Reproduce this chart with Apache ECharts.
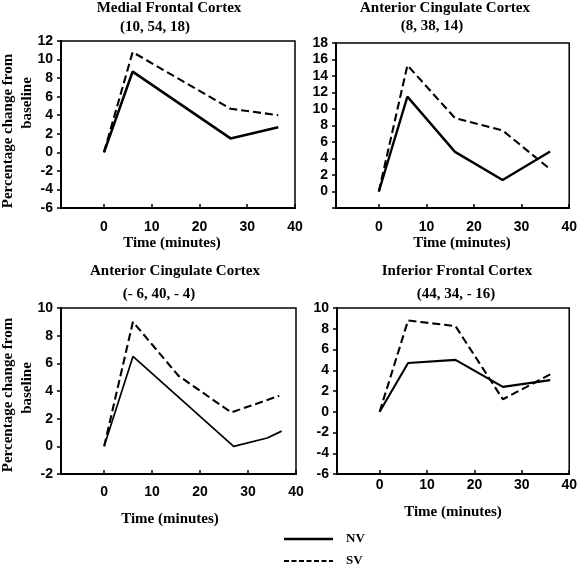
<!DOCTYPE html>
<html><head><meta charset="utf-8">
<script src="https://cdn.jsdelivr.net/npm/echarts@6/dist/echarts.min.js"></script>
<style>html,body{margin:0;padding:0;background:#fff}#c{width:580px;height:570px}</style>
</head><body><div id="c"></div>
<script>
// ---- data ----
const seriesNames = ['NV', 'SV'];
const panelTitles = ['Medial Frontal Cortex', 'Anterior Cingulate Cortex', 'Anterior Cingulate Cortex', 'Inferior Frontal Cortex'];
const panelCoords = ['(10, 54, 18)', '(8, 38, 14)', '(- 6, 40, - 4)', '(44, 34, - 16)'];
const xTicks = [0, 10, 20, 30, 40];
const yRanges = [[-6, 12], [-2, 18], [-2, 10], [-6, 10]];
const yLabelTicks2 = [0, 2, 4, 6, 8, 10, 12, 14, 16, 18];

// panel 1: Medial Frontal Cortex (10, 54, 18)
const p1NV = [[0, 0], [6, 8.7], [26.5, 1.5], [36.5, 2.7]];
const p1SV = [[0, 0], [6, 10.8], [26.5, 4.7], [36.5, 4.0]];
// panel 2: Anterior Cingulate Cortex (8, 38, 14)
const p2NV = [[0, 0], [6, 11.5], [16, 4.8], [26, 1.4], [36, 4.85]];
const p2SV = [[0, 0], [6, 15.3], [16, 8.9], [26, 7.4], [36, 2.7]];
// panel 3: Anterior Cingulate Cortex (-6, 40, -4)
const p3NV = [[0, 0], [6, 6.5], [27, 0], [34, 0.6], [37, 1.1]];
const p3SV = [[0, 0], [6, 9.0], [15.5, 5.1], [26.5, 2.45], [36.5, 3.65]];
// panel 4: Inferior Frontal Cortex (44, 34, -16)
const p4NV = [[0, 0], [6, 4.7], [16, 5.0], [26, 2.4], [36, 3.05]];
const p4SV = [[0, 0], [6, 8.8], [16, 8.25], [26, 1.2], [36, 3.6]];

const yTitle1 = 'Percentage change from';
const yTitle2 = 'baseline';
const xTitle = 'Time (minutes)';

// ---- layout ----
const grids = [
  {left: 61, top: 41, width: 234, height: 167},
  {left: 336, top: 43, width: 235, height: 165},
  {left: 61, top: 308, width: 235, height: 166},
  {left: 337, top: 308, width: 235, height: 166}
];
const xLabelMargins = [12, 12, 11, 4];
const nvWidths = [2.6, 2.4, 1.7, 2.1];
const serif = '"Liberation Serif", "Times New Roman", serif';
const sans = '"Liberation Sans", Arial, sans-serif';

const nvData = [p1NV, p2NV, p3NV, p4NV];
const svData = [p1SV, p2SV, p3SV, p4SV];

const xAxes = grids.map((g, i) => ({
  type: 'value', gridIndex: i, min: -9, max: 40,
  axisLine: {show: true, onZero: false, lineStyle: {color: '#000', width: 2}},
  axisTick: {show: true, inside: true, length: 4, customValues: xTicks, lineStyle: {color: '#000', width: 1.5}},
  axisLabel: {customValues: xTicks, color: '#000', fontFamily: sans, fontSize: 14, fontWeight: 'bold', margin: xLabelMargins[i]},
  splitLine: {show: false}
}));
const yAxes = grids.map((g, i) => {
  const [mn, mx] = yRanges[i];
  const vals = [];
  for (let v = mn; v <= mx; v += 2) vals.push(v);
  return {
    type: 'value', gridIndex: i, min: mn, max: mx, interval: 2,
    axisLine: {show: true, onZero: false, lineStyle: {color: '#000', width: 2}},
    axisTick: {show: true, inside: false, length: 4, lineStyle: {color: '#000', width: 1.5}},
    axisLabel: {customValues: i === 1 ? yLabelTicks2 : vals, color: '#000', fontFamily: sans, fontSize: 14, fontWeight: 'bold', margin: 8},
    splitLine: {show: false}
  };
});

const series = [];
for (let i = 0; i < 4; i++) {
  series.push({name: seriesNames[0], type: 'line', xAxisIndex: i, yAxisIndex: i, data: nvData[i],
    showSymbol: false, symbol: 'none', lineStyle: {color: '#000', width: nvWidths[i], type: 'solid'}, animation: false});
  series.push({name: seriesNames[1], type: 'line', xAxisIndex: i, yAxisIndex: i, data: svData[i],
    showSymbol: false, symbol: 'none', lineStyle: {color: '#000', width: 2.1, type: [8, 4]}, animation: false});
}

const titleCenters = [[169, 8], [445, 8], [175, 271], [457, 271]];
const coordCenters = [[155, 27], [432, 26], [159, 294], [456, 294]];
const xTitleCenters = [[172, 243], [462, 243], [170, 519], [453, 512]];

const txt = (x, y, s, size, rot) => ({
  type: 'text', x: x, y: y, rotation: rot || 0,
  style: {text: s, font: 'bold ' + size + 'px ' + serif, fill: '#000', align: 'center', verticalAlign: 'middle'}
});
const graphic = [];
for (let i = 0; i < 4; i++) {
  graphic.push(txt(titleCenters[i][0], titleCenters[i][1], panelTitles[i], 15));
  graphic.push(txt(coordCenters[i][0], coordCenters[i][1], panelCoords[i], 15));
  graphic.push(txt(xTitleCenters[i][0], xTitleCenters[i][1], xTitle, 15));
}
graphic.push(txt(8, 131, yTitle1, 15, Math.PI / 2));
graphic.push(txt(27, 103, yTitle2, 15, Math.PI / 2));
graphic.push(txt(8, 395, yTitle1, 15, Math.PI / 2));
graphic.push(txt(27, 388, yTitle2, 15, Math.PI / 2));
// legend
graphic.push({type: 'line', shape: {x1: 284, y1: 539, x2: 333, y2: 539}, style: {stroke: '#000', lineWidth: 2.5}});
graphic.push({type: 'line', shape: {x1: 284, y1: 561, x2: 333, y2: 561}, style: {stroke: '#000', lineWidth: 2, lineDash: [5, 2.5]}});
graphic.push({type: 'text', x: 346, y: 539, style: {text: seriesNames[0], font: 'bold 13px ' + serif, fill: '#000', align: 'left', verticalAlign: 'middle'}});
graphic.push({type: 'text', x: 346, y: 561, style: {text: seriesNames[1], font: 'bold 13px ' + serif, fill: '#000', align: 'left', verticalAlign: 'middle'}});

const chart = echarts.init(document.getElementById('c'), null, {renderer: 'canvas'});
chart.setOption({
  backgroundColor: '#fff',
  animation: false,
  grid: grids.map(g => Object.assign({show: true, borderColor: '#000', borderWidth: 1.5, backgroundColor: 'transparent', containLabel: false}, g)),
  xAxis: xAxes,
  yAxis: yAxes,
  series: series,
  graphic: graphic
});
</script></body></html>
